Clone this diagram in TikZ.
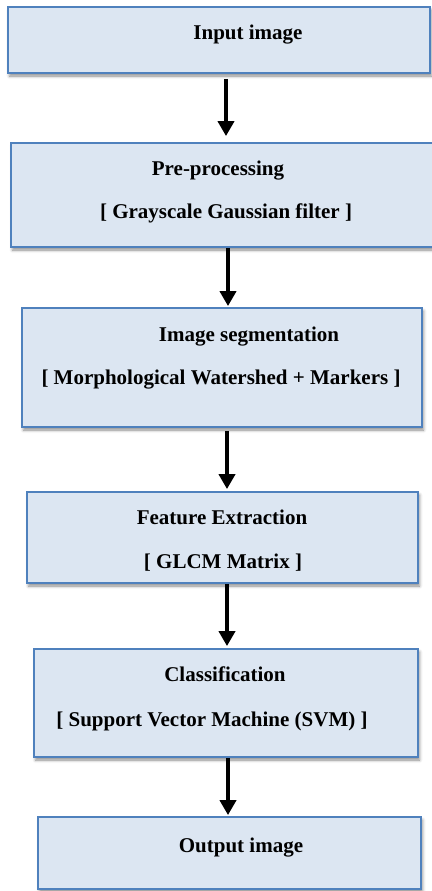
\documentclass[tikz,border=0pt]{standalone}
\usepackage{fontspec}
\setmainfont{Liberation Serif}
\usetikzlibrary{arrows.meta,shadows.blur}
\definecolor{boxfill}{HTML}{DCE6F2}
\definecolor{boxline}{HTML}{4F81BD}
\tikzset{
  stagebox/.style={draw=boxline, fill=boxfill, line width=1.8pt,
    inner sep=0pt, rectangle,
    blur shadow={shadow xshift=1.5pt, shadow yshift=-3pt,
      shadow blur radius=3pt, shadow opacity=45}},
  label/.style={anchor=base, inner sep=0pt,
    font=\fontsize{21}{25}\selectfont\bfseries},
  flow/.style={line width=4pt, -{Triangle[width=16pt,length=15pt]}}
}
\begin{document}
\begin{tikzpicture}[x=1pt, y=-1pt]
  \useasboundingbox (0,0) rectangle (431,891);

  % processing stages
  \node[stagebox, minimum width=422pt, minimum height=66pt]  (b1) at (219,40) {};
  \node[stagebox, minimum width=423pt, minimum height=104pt] (b2) at (222.5,195) {};
  \node[stagebox, minimum width=400pt, minimum height=119pt] (b3) at (222,367.5) {};
  \node[stagebox, minimum width=391pt, minimum height=91pt]  (b4) at (222.5,537.5) {};
  \node[stagebox, minimum width=384pt, minimum height=108pt] (b5) at (226,703) {};
  \node[stagebox, minimum width=383pt, minimum height=72pt]  (b6) at (229.5,853) {};

  % stage texts
  \node[label] (t1)  at (248,40)  {Input image};
  \node[label] (t2a) at (218,175) {Pre-processing};
  \node[label] (t2b) at (226,218) {[ Grayscale Gaussian filter ]};
  \node[label] (t3a) at (249,341) {Image segmentation};
  \node[label] (t3b) at (221,384) {[ Morphological Watershed + Markers ]};
  \node[label] (t4a) at (222,524) {Feature Extraction};
  \node[label] (t4b) at (223,568) {[ GLCM Matrix ]};
  \node[label] (t5a) at (225,681) {Classification};
  \node[label] (t5b) at (212,726) {[ Support Vector Machine (SVM) ]};
  \node[label] (t6)  at (241,852) {Output image};

  % flow arrows
  \draw[flow] ([xshift=7pt,yshift=-5pt]b1.south) -- ([xshift=3.5pt,yshift=6pt]b2.north);
  \draw[flow] ([xshift=5.5pt]b2.south) -- ([xshift=6pt,yshift=1pt]b3.north);
  \draw[flow] ([xshift=5pt,yshift=-3pt]b3.south) -- ([xshift=4.5pt,yshift=2pt]b4.north);
  \draw[flow] ([xshift=4.5pt]b4.south) -- ([xshift=1pt,yshift=2pt]b5.north);
  \draw[flow] ([xshift=2pt]b5.south) -- ([xshift=-1.5pt,yshift=1pt]b6.north);
\end{tikzpicture}
\end{document}
